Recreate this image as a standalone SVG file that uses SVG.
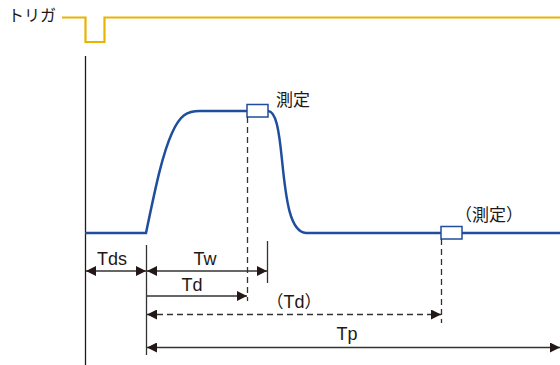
<svg xmlns="http://www.w3.org/2000/svg" width="560" height="365" viewBox="0 0 560 365">
<defs>
<style>
.txt{font-family:"Liberation Sans","Noto Sans CJK JP",sans-serif;fill:#231815;}
.jp{font-family:"Noto Sans CJK JP","Liberation Sans",sans-serif;fill:#231815;}
.dim{stroke:#333;stroke-width:1.3;fill:none;}
.dash{stroke:#333;stroke-width:1.3;fill:none;stroke-dasharray:6 4;}
.wave{stroke:#1F4E9E;stroke-width:2.5;fill:none;}
.box{stroke:#1F4E9E;stroke-width:1.5;fill:#fff;}
</style>
<marker id="ae" viewBox="0 0 10 10" refX="10" refY="5" markerWidth="10" markerHeight="10" markerUnits="userSpaceOnUse" orient="auto">
<path d="M0,0 L10,5 L0,10 Z" fill="#231815"/>
</marker>
<marker id="as" viewBox="0 0 10 10" refX="0" refY="5" markerWidth="10" markerHeight="10" markerUnits="userSpaceOnUse" orient="auto">
<path d="M10,0 L0,5 L10,10 Z" fill="#231815"/>
</marker>
</defs>
<rect width="560" height="365" fill="#fff"/>
<g id="trigger">
<text class="jp" x="8" y="21" font-size="16">トリガ</text>
<path d="M62,17.5 H85.5 V42 H104.5 V17.5 H560" fill="none" stroke="#E8B400" stroke-width="2.2"/>
</g>
<g id="axis">
<line x1="85.5" y1="56" x2="85.5" y2="365" stroke="#231815" stroke-width="1.3"/>
</g>
<g id="waveform">
<path class="wave" d="M85,233 H146 C155,190 162,155 172,133 C180,115 187,111 200,111 H268 C276,111 279,130 282,160 C286,200 290,232 306,233 H560"/>
<rect id="measure1" class="box" x="247" y="104.5" width="21" height="12.5"/>
<rect id="measure2" class="box" x="441" y="226.5" width="21" height="12.5"/>
<text class="jp" x="276" y="106" font-size="17">測定</text>
<text class="jp" x="489" y="221" font-size="17" text-anchor="middle">（測定）</text>
</g>
<g id="connectors">
<line class="dash" x1="247.5" y1="117" x2="247.5" y2="301"/>
<line class="dash" x1="441.5" y1="239" x2="441.5" y2="323"/>
<line class="dim" x1="146.5" y1="245" x2="146.5" y2="355"/>
<line class="dim" x1="267.5" y1="241" x2="267.5" y2="283"/>
<line class="dim" x1="86" y1="271" x2="146" y2="271" marker-start="url(#as)" marker-end="url(#ae)"/>
<line class="dim" x1="147" y1="271" x2="267" y2="271" marker-start="url(#as)" marker-end="url(#ae)"/>
<line class="dim" x1="147" y1="296" x2="247" y2="296" marker-end="url(#ae)"/>
<line class="dash" x1="147" y1="314.5" x2="441" y2="314.5" marker-start="url(#as)" marker-end="url(#ae)"/>
<line class="dim" x1="147" y1="347.5" x2="560" y2="347.5" marker-start="url(#as)" marker-end="url(#ae)"/>
</g>
<g id="labels">
<text class="txt" x="112" y="265" font-size="18" text-anchor="middle">Tds</text>
<text class="txt" x="205" y="265" font-size="18" text-anchor="middle">Tw</text>
<text class="txt" x="192" y="291" font-size="18" text-anchor="middle">Td</text>
<text class="jp" x="294" y="308" font-size="17" text-anchor="middle">（<tspan class="txt" font-size="18">Td</tspan>）</text>
<text class="txt" x="347" y="340" font-size="18" text-anchor="middle">Tp</text>
</g>
</svg>
